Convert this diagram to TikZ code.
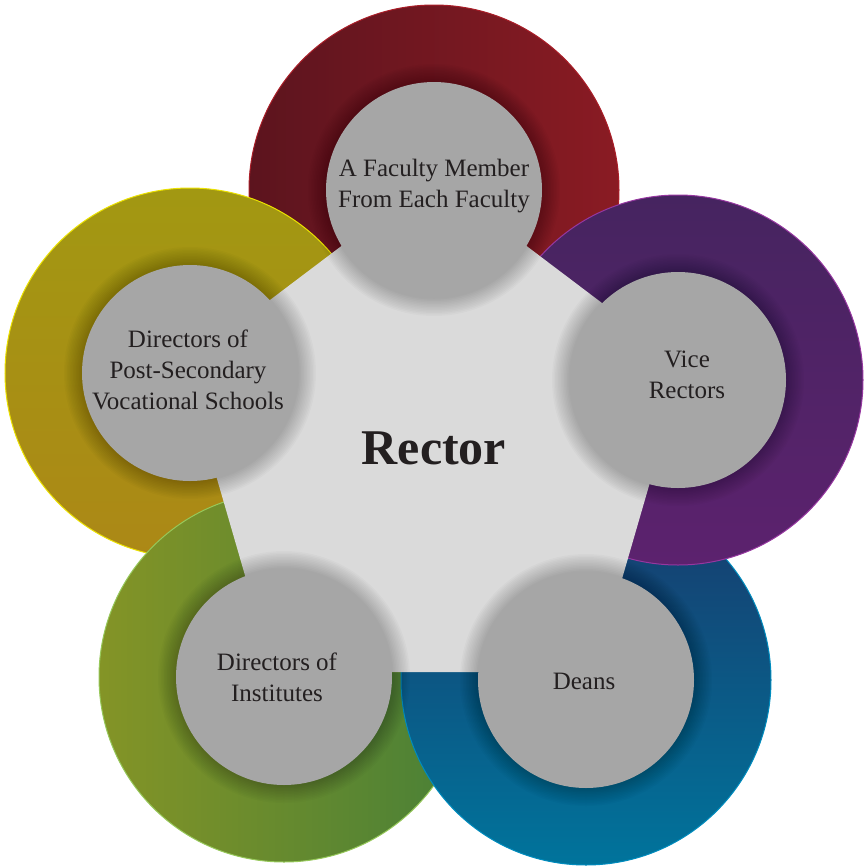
\documentclass[tikz,border=0pt]{standalone}
\usepackage{fontspec}
\setmainfont{Liberation Serif}
\usepackage{tikz}
\usetikzlibrary{calc}
\usepackage{xcolor}
\definecolor{redA}{RGB}{92, 20, 30}
\definecolor{redB}{RGB}{138, 27, 35}
\definecolor{redrim}{RGB}{170, 30, 40}
\definecolor{yelA}{RGB}{162, 152, 18}
\definecolor{yelB}{RGB}{172, 136, 22}
\definecolor{yelrim}{RGB}{235, 225, 0}
\definecolor{grnA}{RGB}{132, 148, 38}
\definecolor{grnB}{RGB}{72, 128, 55}
\definecolor{grnrim}{RGB}{150, 200, 90}
\definecolor{bluA}{RGB}{24, 58, 108}
\definecolor{bluB}{RGB}{0, 116, 156}
\definecolor{blurim}{RGB}{0, 140, 190}
\definecolor{purA}{RGB}{70, 36, 96}
\definecolor{purB}{RGB}{92, 34, 110}
\definecolor{purrim}{RGB}{150, 55, 160}
\definecolor{pentfill}{RGB}{218, 218, 218}
\definecolor{discfill}{RGB}{166, 166, 166}
\definecolor{txtclr}{RGB}{35, 31, 32}
\tikzset{
  % Rangli halqalar
  ring/.style     = {line width=0.5pt},
  % Markaziy beshburchak
  pentagon/.style = {fill=pentfill},
  % Kulrang doiralar va soyasi
  disc/.style     = {fill=discfill},
  halo/.style     = {fill=black, opacity=0.02},
  % Matnlar
  lab/.style      = {font=\fontsize{12.5}{15.5}\selectfont, text=txtclr, align=center, inner sep=0pt},
  bigstyle/.style = {font=\fontsize{25}{29}\selectfont\bfseries, text=txtclr, inner sep=0pt},
}

\begin{document}
\begin{tikzpicture}[x=0.5pt, y=-0.5pt]
  \pgfmathsetmacro{\rin}{108}
  \pgfmathsetmacro{\rout}{185}
  \useasboundingbox (0,0) rectangle (865,868);
  % doira markazlari
  \coordinate (cTop)   at (434,190);
  \coordinate (cRight) at (678,380);
  \coordinate (cBR)    at (586,680);
  \coordinate (cBL)    at (284,677);
  \coordinate (cLeft)  at (190,373);
  % rangli halqalar (ustma-ust tartibda)
  \shadedraw[ring, left color=redA, right color=redB, draw=redrim] (cTop) circle (\rout);
  \shadedraw[ring, top color=yelA, bottom color=yelB, draw=yelrim] (cLeft) circle (\rout);
  \shadedraw[ring, left color=grnA, right color=grnB, draw=grnrim] (cBL) circle (\rout);
  \shadedraw[ring, top color=bluA, bottom color=bluB, draw=blurim] (cBR) circle (\rout);
  \shadedraw[ring, top color=purA, bottom color=purB, draw=purrim] (cRight) circle (\rout);
  % beshburchak
  \fill[pentagon] (434,176) -- (684,365) -- (595,672) -- (273,672) -- (184,365) -- cycle;
  % doiralar soyasi
  \foreach \c in {cTop,cRight,cBR,cBL,cLeft}
    \foreach \k in {1,...,12}
      \fill[halo] (\c) circle (\rin+\k*1.5);
  % kulrang doiralar
  \foreach \c in {cTop,cRight,cBR,cBL,cLeft}
    \fill[disc] (\c) circle (\rin);
  % yozuvlar
  \node[lab] (tTop)   at (434,186) {A Faculty Member\\From Each Faculty};
  \node[lab] (tRight) at (687,375) {Vice\\Rectors};
  \node[lab] (tBR)    at (584,681) {Deans};
  \node[lab] (tBL)    at (277,677) {Directors of\\Institutes};
  \node[lab] (tLeft)  at (188,370) {Directors of\\Post-Secondary\\Vocational Schools};
  \node[bigstyle] (rector) at (434,448) {Rector};
\end{tikzpicture}
\end{document}
